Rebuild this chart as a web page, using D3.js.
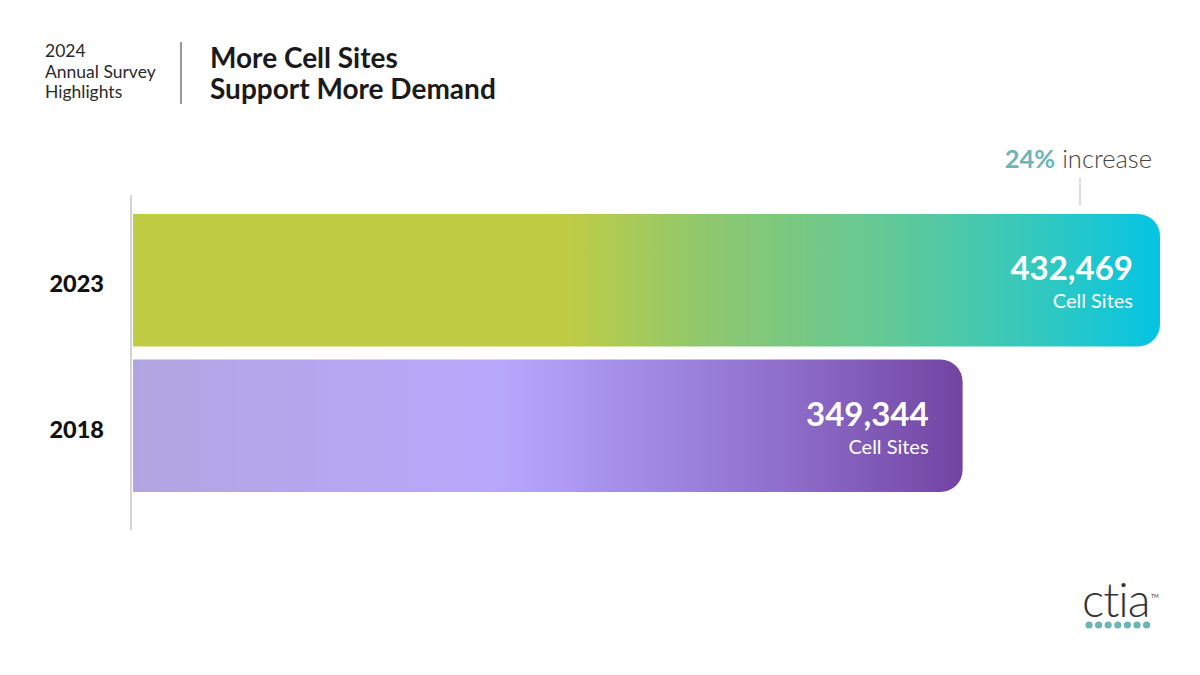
<!DOCTYPE html>
<html lang="en">
<head>
<meta charset="UTF-8">
<title>More Cell Sites Support More Demand</title>
<script src="https://cdn.jsdelivr.net/npm/d3@7"></script>
<style>
  body { margin: 0; background: #fff; }
  svg { font-family: Lato, "Noto Sans", sans-serif; }
</style>
</head>
<body>
<svg id="chart" width="1200" height="675"></svg>
<script>
// data
var years = ["2023", "2018"];
var sites = [432469, 349344];
var unitLabel = "Cell Sites";
var changeLabel = ["24%", " increase"];

var svg = d3.select("#chart");

// header
var head = svg.append("g");
head.append("text").attr("font-size", 17.5).attr("font-weight", 400).attr("fill", "#2a2a2a")
  .selectAll("tspan").data(["2024", "Annual Survey", "Highlights"]).enter().append("tspan")
  .attr("x", 45).attr("y", function(d, i) { return 57 + i * 20.5; }).text(function(d) { return d; });
head.append("line").attr("x1", 181).attr("x2", 181).attr("y1", 42).attr("y2", 104)
  .attr("stroke", "#777").attr("stroke-width", 1.5);
head.append("text").attr("font-size", 28).attr("font-weight", 700).attr("fill", "#1a1a1a")
  .selectAll("tspan").data(["More Cell Sites", "Support More Demand"]).enter().append("tspan")
  .attr("x", 210).attr("y", function(d, i) { return 68 + i * 31; }).text(function(d) { return d; });

// scales
var x = d3.scaleLinear().domain([0, d3.max(sites)]).range([133, 1160]);
var y = d3.scaleBand().domain(years).range([214, 492]).paddingInner(0.09);

// gradients
var defs = svg.append("defs");
var grads = [
  [["0%", "#c0cc44"], ["42%", "#c0cc44"], ["56%", "#8ec86e"], ["75%", "#5ec99a"], ["90%", "#2cc8c4"], ["100%", "#04c4e4"]],
  [["0%", "#b1a5e1"], ["44%", "#b8a8fc"], ["58%", "#a690ea"], ["80%", "#8c6cc8"], ["100%", "#7244a2"]]
];
grads.forEach(function(stops, i) {
  var g = defs.append("linearGradient").attr("id", "grad" + i)
    .attr("gradientUnits", "userSpaceOnUse")
    .attr("x1", x(0)).attr("x2", x(sites[i])).attr("y1", 0).attr("y2", 0);
  g.selectAll("stop").data(stops).enter().append("stop")
    .attr("offset", function(d) { return d[0]; }).attr("stop-color", function(d) { return d[1]; });
});

function barPath(x0, x1, y0, h, r) {
  var p = d3.path();
  p.moveTo(x0, y0);
  p.lineTo(x1 - r, y0);
  p.arcTo(x1, y0, x1, y0 + r, r);
  p.lineTo(x1, y0 + h - r);
  p.arcTo(x1, y0 + h, x1 - r, y0 + h, r);
  p.lineTo(x0, y0 + h);
  p.closePath();
  return p.toString();
}

var bars = svg.selectAll("g.bar").data(years).enter().append("g").attr("class", "bar");
bars.append("path")
  .attr("d", function(d, i) { return barPath(x(0), x(sites[i]), y(d), y.bandwidth(), 22); })
  .attr("fill", function(d, i) { return "url(#grad" + i + ")"; });

// axis line
svg.append("line").attr("x1", 131).attr("x2", 131).attr("y1", 195).attr("y2", 530)
  .attr("stroke", "#d4d4d4").attr("stroke-width", 2);

// year labels
bars.append("text").attr("x", 104).attr("text-anchor", "end")
  .attr("y", function(d) { return y(d) + y.bandwidth() / 2 + 12; })
  .attr("font-size", 23.5).attr("font-weight", 900).attr("fill", "#111")
  .text(function(d) { return d; });

// value labels
var fmt = d3.format(",");
var inset = [27, 34];
bars.append("text").attr("text-anchor", "end")
  .attr("x", function(d, i) { return x(sites[i]) - inset[i]; })
  .attr("y", function(d) { return y(d) + 66; })
  .attr("font-size", 33).attr("font-weight", 700).attr("fill", "#fff")
  .text(function(d, i) { return fmt(sites[i]); });
bars.append("text").attr("text-anchor", "end")
  .attr("x", function(d, i) { return x(sites[i]) - inset[i]; })
  .attr("y", function(d) { return y(d) + 94; })
  .attr("font-size", 20).attr("font-weight", 400).attr("fill", "#fff")
  .text(unitLabel);

// increase annotation
var ann = svg.append("text").attr("x", 1152).attr("y", 168).attr("text-anchor", "end").attr("font-size", 25.5);
ann.append("tspan").attr("font-weight", 700).attr("fill", "#6cb4b6").text(changeLabel[0]);
ann.append("tspan").attr("font-weight", 300).attr("fill", "#444").text(changeLabel[1]);
svg.append("line").attr("x1", 1080).attr("x2", 1080).attr("y1", 178).attr("y2", 205)
  .attr("stroke", "#d0d0d0").attr("stroke-width", 1.5);

// logo
var logo = svg.append("g");
logo.append("text").attr("x", 1082).attr("y", 617).attr("font-size", 47).attr("font-weight", 300)
  .attr("fill", "#333").attr("letter-spacing", -1).text("ctia");
logo.append("text").attr("x", 1151).attr("y", 598).attr("font-size", 5).attr("fill", "#333").text("TM");
logo.selectAll("circle").data(d3.range(7)).enter().append("circle")
  .attr("cx", function(d) { return 1089 + d * 9.6; }).attr("cy", 625).attr("r", 3.6).attr("fill", "#6cb4b6");
</script>
</body>
</html>
